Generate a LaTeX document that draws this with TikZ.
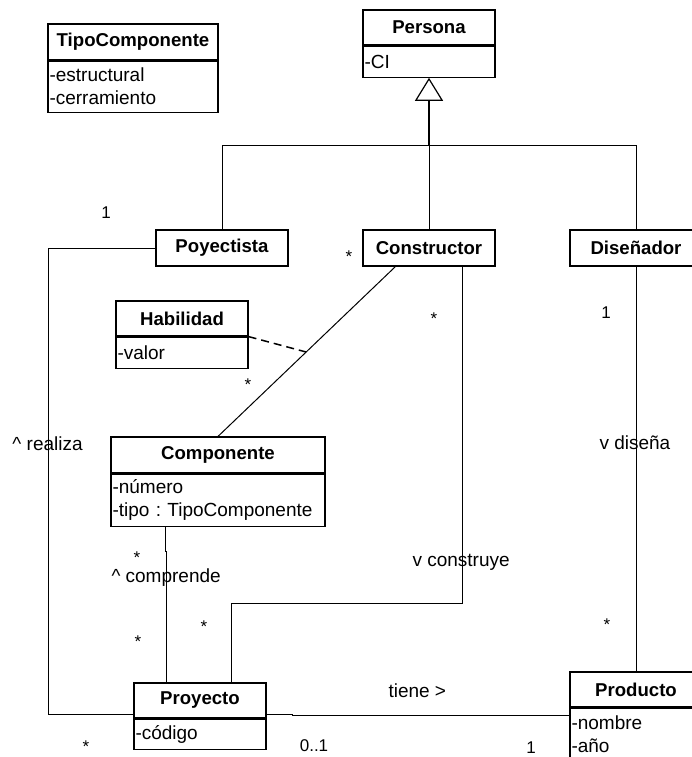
\documentclass[tikz,border=0pt]{standalone}
\usepackage{fontspec}
\setmainfont{Liberation Sans}
\usetikzlibrary{arrows.meta,calc}
\frenchspacing
\begin{document}
\begin{tikzpicture}[x=1pt,y=-1pt,line width=1pt,
  cname/.style={draw, line width=1.2pt, inner sep=0pt, minimum width=#1,
    minimum height=35pt, align=center, font=\fontsize{18.6}{23}\selectfont\bfseries},
  cattr/.style n args={2}{draw, line width=1.2pt, anchor=north west, inner xsep=1.5pt,
    inner ysep=0pt, text width=#1, minimum height=#2, align=left,
    font=\fontsize{19}{23}\selectfont},
  lbl/.style={inner sep=0pt, anchor=west, font=\fontsize{19}{23}\selectfont},
  mult/.style={inner sep=0pt, font=\fontsize{17}{20}\selectfont},
  assocdash/.style={line width=1.5pt, dash pattern=on 8pt off 5pt}]
\useasboundingbox (0,0) rectangle (691,757);

% classes
\node[cname=132pt] (persona) at (429,27.5) {Persona};
\node[cattr={129pt}{31pt}] (persona-a) at (persona.south west) {-CI};

\node[cname=170pt, minimum height=36pt] (tipo) at (133,42) {TipoComponente};
\node[cattr={167pt}{51pt}] (tipo-a) at (tipo.south west) {-estructural\\-cerramiento};

\node[cname=132pt, minimum height=36pt] (poyectista) at (222,248) {Poyectista};
\node[cname=132pt, minimum height=36pt] (constructor) at (429,248) {Constructor};
\node[cname=132pt, minimum height=36pt] (disenador) at (636,248) {Diseñador};

\node[cname=132pt] (habilidad) at (182,318.5) {Habilidad};
\node[cattr={129pt}{31pt}] (habilidad-a) at (habilidad.south west) {-valor};

\node[cname=214pt, minimum height=36pt] (componente) at (218,455) {Componente};
\node[cattr={211pt}{52pt}] (componente-a) at (componente.south west) {-número\\-tipo : TipoComponente};

\node[cname=132pt] (proyecto) at (200,700.5) {Proyecto};
\node[cattr={129pt}{30pt}] (proyecto-a) at (proyecto.south west) {-código};

\node[cname=132pt] (producto) at (636,689.5) {Producto};
\node[cattr={129pt}{52pt}] (producto-a) at (producto.south west) {-nombre\\-año};

% generalization
\coordinate (gen) at ([yshift=-68pt]persona-a.south);
\draw[line width=1.8pt, -{Triangle[open, length=23pt, width=28pt, line width=1.2pt]}]
  (gen) -- (persona-a.south);
\draw (poyectista.north) |- (gen) -| (disenador.north);
\draw (gen) -- (constructor.north);

% Poyectista realiza Proyecto
\draw (poyectista.west) -- ++(-107,0) |- ([yshift=4pt]proyecto.south west);

% Constructor -- Componente with association class Habilidad
\coordinate (cc-top) at ([xshift=33pt]constructor.south west);
\draw (cc-top) -- (componente.north);
\coordinate (assoc) at ($(cc-top)!0.503!(componente.north)$);
\draw[assocdash] (habilidad-a.north east) -- (assoc);

% Constructor construye Proyecto
\draw ([xshift=-33pt]constructor.south east) -- ++(0,337) -| ([xshift=98pt]proyecto.north west);

% Proyecto comprende Componente
\draw ([xshift=55pt]componente-a.south west) -- ++(0,25) -| ([xshift=33pt]proyecto.north west);

% Diseñador diseña Producto
\draw (disenador.south) -- (producto.north);

% Proyecto tiene Producto
\draw ([yshift=4pt]proyecto.south east) -- ++(26,0) |- ([yshift=-8pt]producto-a.north west);

% association names
\node[lbl] (l-realiza) at (12,444) {\textasciicircum{} realiza};
\node[lbl] (l-comprende) at (111,578) {\textasciicircum{} comprende};
\node[lbl] (l-construye) at (412,562) {v construye};
\node[lbl] (l-disena) at (599,443) {v diseña};
\node[lbl] (l-tiene) at (388,691) {tiene >};

% multiplicities
\node[mult] (m1) at (106,213) {1};
\node[mult] (m2) at (349,256.5) {*};
\node[mult] (m3) at (434,318.5) {*};
\node[mult] (m4) at (248,384.5) {*};
\node[mult] (m5) at (137,558) {*};
\node[mult] (m6) at (138,641.5) {*};
\node[mult] (m7) at (204,626.5) {*};
\node[mult] (m8) at (607,624.5) {*};
\node[mult] (m9) at (86,746.5) {*};
\node[mult] (m10) at (606,313) {1};
\node[mult] (m11) at (314,746) {0..1};
\node[mult] (m12) at (531,748) {1};
\end{tikzpicture}
\end{document}
